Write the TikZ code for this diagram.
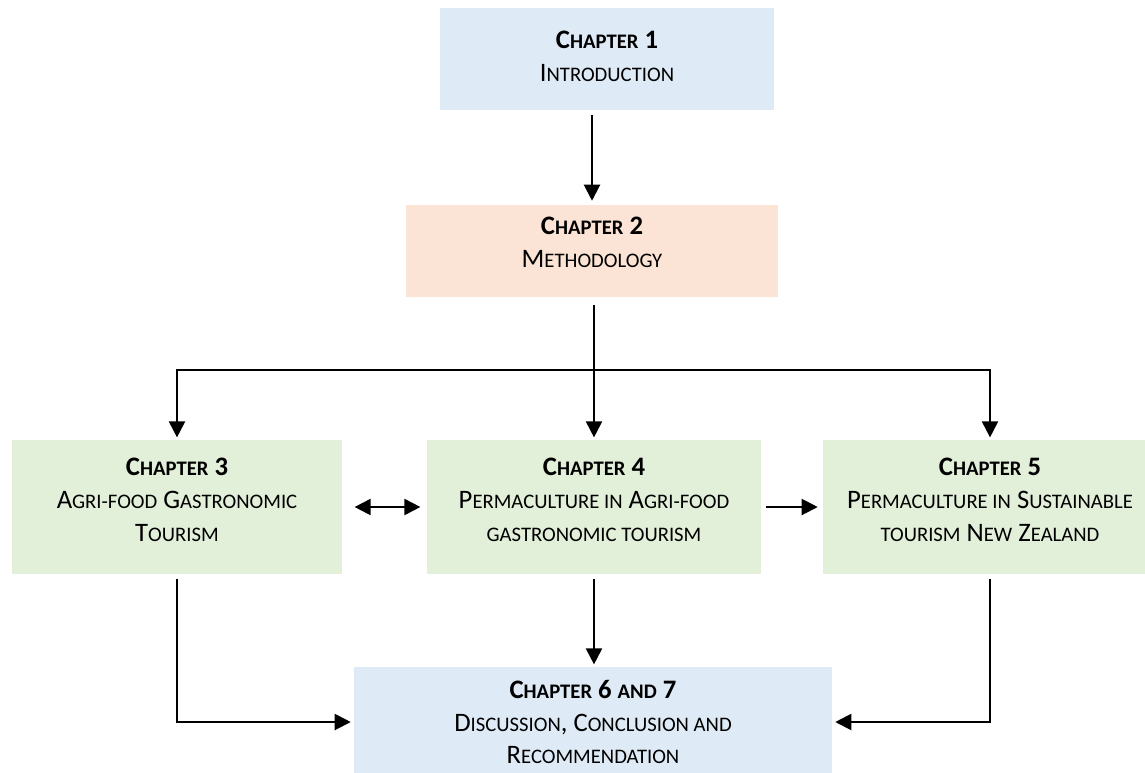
\documentclass[tikz,border=0pt]{standalone}
\usepackage{fontspec}
\setmainfont{Carlito}
\usetikzlibrary{arrows.meta}
\definecolor{introblue}{HTML}{DEEAF6}
\definecolor{methorange}{HTML}{FBE4D5}
\definecolor{chapgreen}{HTML}{E2EFD9}
% small capitals made by hand
\newcommand{\lsc}[1]{{\fontsize{15.5}{24.5}\selectfont\MakeUppercase{#1}}}
\tikzstyle{chapbox}=
[
	rectangle
	, align=center
	, inner sep=0pt
	, font=\fontsize{20}{24.5}\selectfont
]
\tikzstyle{arrow} = [line width=1.5pt,-{Triangle[length=12pt,width=12pt]}]
\tikzstyle{darrow} = [line width=1.5pt,{Triangle[length=12pt,width=12pt]}-{Triangle[length=12pt,width=12pt]}]
\tikzstyle{line} = [line width=1.5pt,-]

\begin{document}
\begin{tikzpicture}[x=0.75pt,y=-0.75pt]
\clip (0,0) rectangle (1145,772);

\node(ch1)[chapbox, fill=introblue, minimum width=251pt, minimum height=76pt, text depth=4.5pt] at (607,59)
	{\textbf{C\lsc{hapter} 1}\\ I\lsc{ntroduction}};
\node(ch2)[chapbox, fill=methorange, minimum width=279pt, minimum height=69pt, text depth=13pt] at (592,251)
	{\textbf{C\lsc{hapter} 2}\\ M\lsc{ethodology}};
\node(ch3)[chapbox, fill=chapgreen, minimum width=248pt, minimum height=100pt, text depth=11pt] at (177,507)
	{\textbf{C\lsc{hapter} 3}\\ A\lsc{gri-food} G\lsc{astronomic}\\ T\lsc{ourism}};
\node(ch4)[chapbox, fill=chapgreen, minimum width=250pt, minimum height=100pt, text depth=11pt] at (594,507)
	{\textbf{C\lsc{hapter} 4}\\ P\lsc{ermaculture in} A\lsc{gri-food}\\ \lsc{gastronomic tourism}};
\node(ch5)[chapbox, fill=chapgreen, minimum width=250pt, minimum height=100pt, text depth=11pt] at (990,507)
	{\textbf{C\lsc{hapter} 5}\\ P\lsc{ermaculture in} S\lsc{ustainable}\\ \lsc{tourism} N\lsc{ew} Z\lsc{ealand}};
\node(ch67)[chapbox, fill=introblue, minimum width=359pt, minimum height=82pt] at (593,722)
	{\textbf{C\lsc{hapter} 6 \lsc{and} 7}\\ D\lsc{iscussion}, C\lsc{onclusion and}\\ R\lsc{ecommendation}};

\coordinate(split) at (594,370);

\draw[arrow, shorten <=4pt, shorten >=3pt](ch1.south -| ch2.north)--(ch2.north);
\draw[line, shorten <=6pt](ch2.south -| split)--(split);
\draw[arrow, shorten >=2pt](split)-|(ch3.north);
\draw[arrow, shorten >=2pt](split)-|(ch5.north);
\draw[arrow, shorten >=2pt](split)--(split |- ch4.north);

\draw[darrow, shorten <=9pt, shorten >=5pt](ch3.east)--(ch4.west);
\draw[arrow, shorten <=4pt, shorten >=4pt](ch4.east)--(ch5.west);

\draw[arrow, shorten <=4pt, shorten >=2pt](ch4.south)--(ch4.south |- ch67.north);
\draw[arrow, shorten <=4pt, shorten >=2pt](ch3.south)|-(ch67.west);
\draw[arrow, shorten <=4pt, shorten >=2pt](ch5.south)|-(ch67.east);

\end{tikzpicture}
\end{document}
